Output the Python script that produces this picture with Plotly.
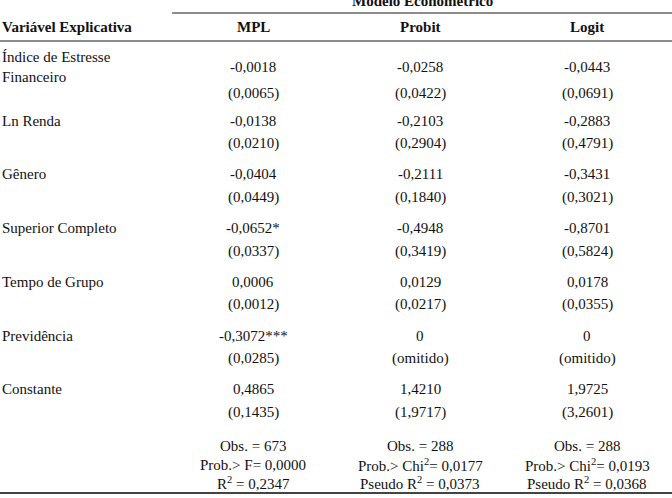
import plotly.graph_objects as go

# -------------------------
# Table data
# -------------------------
variables = ["Índice de Estresse<br>Financeiro", "Ln Renda", "Gênero", "Superior Completo",
             "Tempo de Grupo", "Previdência", "Constante"]
models = ["MPL", "Probit", "Logit"]

mpl_coef = ["-0,0018", "-0,0138", "-0,0404", "-0,0652*", "0,0006", "-0,3072***", "0,4865"]
mpl_se = ["(0,0065)", "(0,0210)", "(0,0449)", "(0,0337)", "(0,0012)", "(0,0285)", "(0,1435)"]
probit_coef = ["-0,0258", "-0,2103", "-0,2111", "-0,4948", "0,0129", "0", "1,4210"]
probit_se = ["(0,0422)", "(0,2904)", "(0,1840)", "(0,3419)", "(0,0217)", "(omitido)", "(1,9717)"]
logit_coef = ["-0,0443", "-0,2883", "-0,3431", "-0,8701", "0,0178", "0", "1,9725"]
logit_se = ["(0,0691)", "(0,4791)", "(0,3021)", "(0,5824)", "(0,0355)", "(omitido)", "(3,2601)"]

mpl_stats = ["Obs. = 673", "Prob.> F= 0,0000", "R<sup>2</sup> = 0,2347"]
probit_stats = ["Obs. = 288", "Prob.> Chi<sup>2</sup>= 0,0177", "Pseudo R<sup>2</sup> = 0,0373"]
logit_stats = ["Obs. = 288", "Prob.> Chi<sup>2</sup>= 0,0193", "Pseudo R<sup>2</sup> = 0,0368"]

# -------------------------
# Layout geometry (pixels)
# -------------------------
W, H = 672, 498
FONT = "Liberation Serif"
FS = 15
col_x = [253, 420, 587]
row0, row_step = 67, 53.7

fig = go.Figure()
ann = []

def add(text, x, y, anchor="center", bold=False, size=FS):
    ann.append(dict(x=x, y=y, xref="x", yref="y", text=f"<b>{text}</b>" if bold else text,
                    showarrow=False, xanchor=anchor, yanchor="middle", align=anchor,
                    font=dict(family=FONT, size=size, color="#111")))

add("Modelo Econométrico", 422, 1, bold=True)
add("Variável Explicativa", 0, 27, anchor="left", bold=True)
for m, cx in zip(models, col_x):
    add(m, cx, 27, bold=True)

cols = [(mpl_coef, mpl_se), (probit_coef, probit_se), (logit_coef, logit_se)]
for i, var in enumerate(variables):
    y = row0 + i * row_step
    se_y = y + (26 if i == 0 else 23)
    add(var, 0, y, anchor="left")
    for (coef, se), cx in zip(cols, col_x):
        add(coef[i], cx, y)
        add(se[i], cx, se_y)

for stats, cx in zip([mpl_stats, probit_stats, logit_stats], col_x):
    for j, s in enumerate(stats):
        add(s, cx, 446 + j * 18.7)

shapes = [
    dict(type="line", x0=172, x1=W, y0=13, y1=13, xref="x", yref="y", line=dict(color="#666", width=1.5)),
    dict(type="line", x0=0, x1=W, y0=41, y1=41, xref="x", yref="y", line=dict(color="#666", width=1.5)),
    dict(type="line", x0=0, x1=W, y0=493, y1=493, xref="x", yref="y", line=dict(color="#444", width=2)),
]

fig.update_layout(
    width=W, height=H, autosize=False,
    margin=dict(l=0, r=0, t=0, b=0),
    paper_bgcolor="white", plot_bgcolor="white",
    xaxis=dict(range=[0, W], visible=False, fixedrange=True),
    yaxis=dict(range=[H, 0], visible=False, fixedrange=True),
    annotations=ann, shapes=shapes, showlegend=False,
)

# the page body has an 8px default margin; drop it so the table sits at the window edge
fig.write_html("out.html", config={"displayModeBar": False},
               post_script="document.body.style.margin='0';")
